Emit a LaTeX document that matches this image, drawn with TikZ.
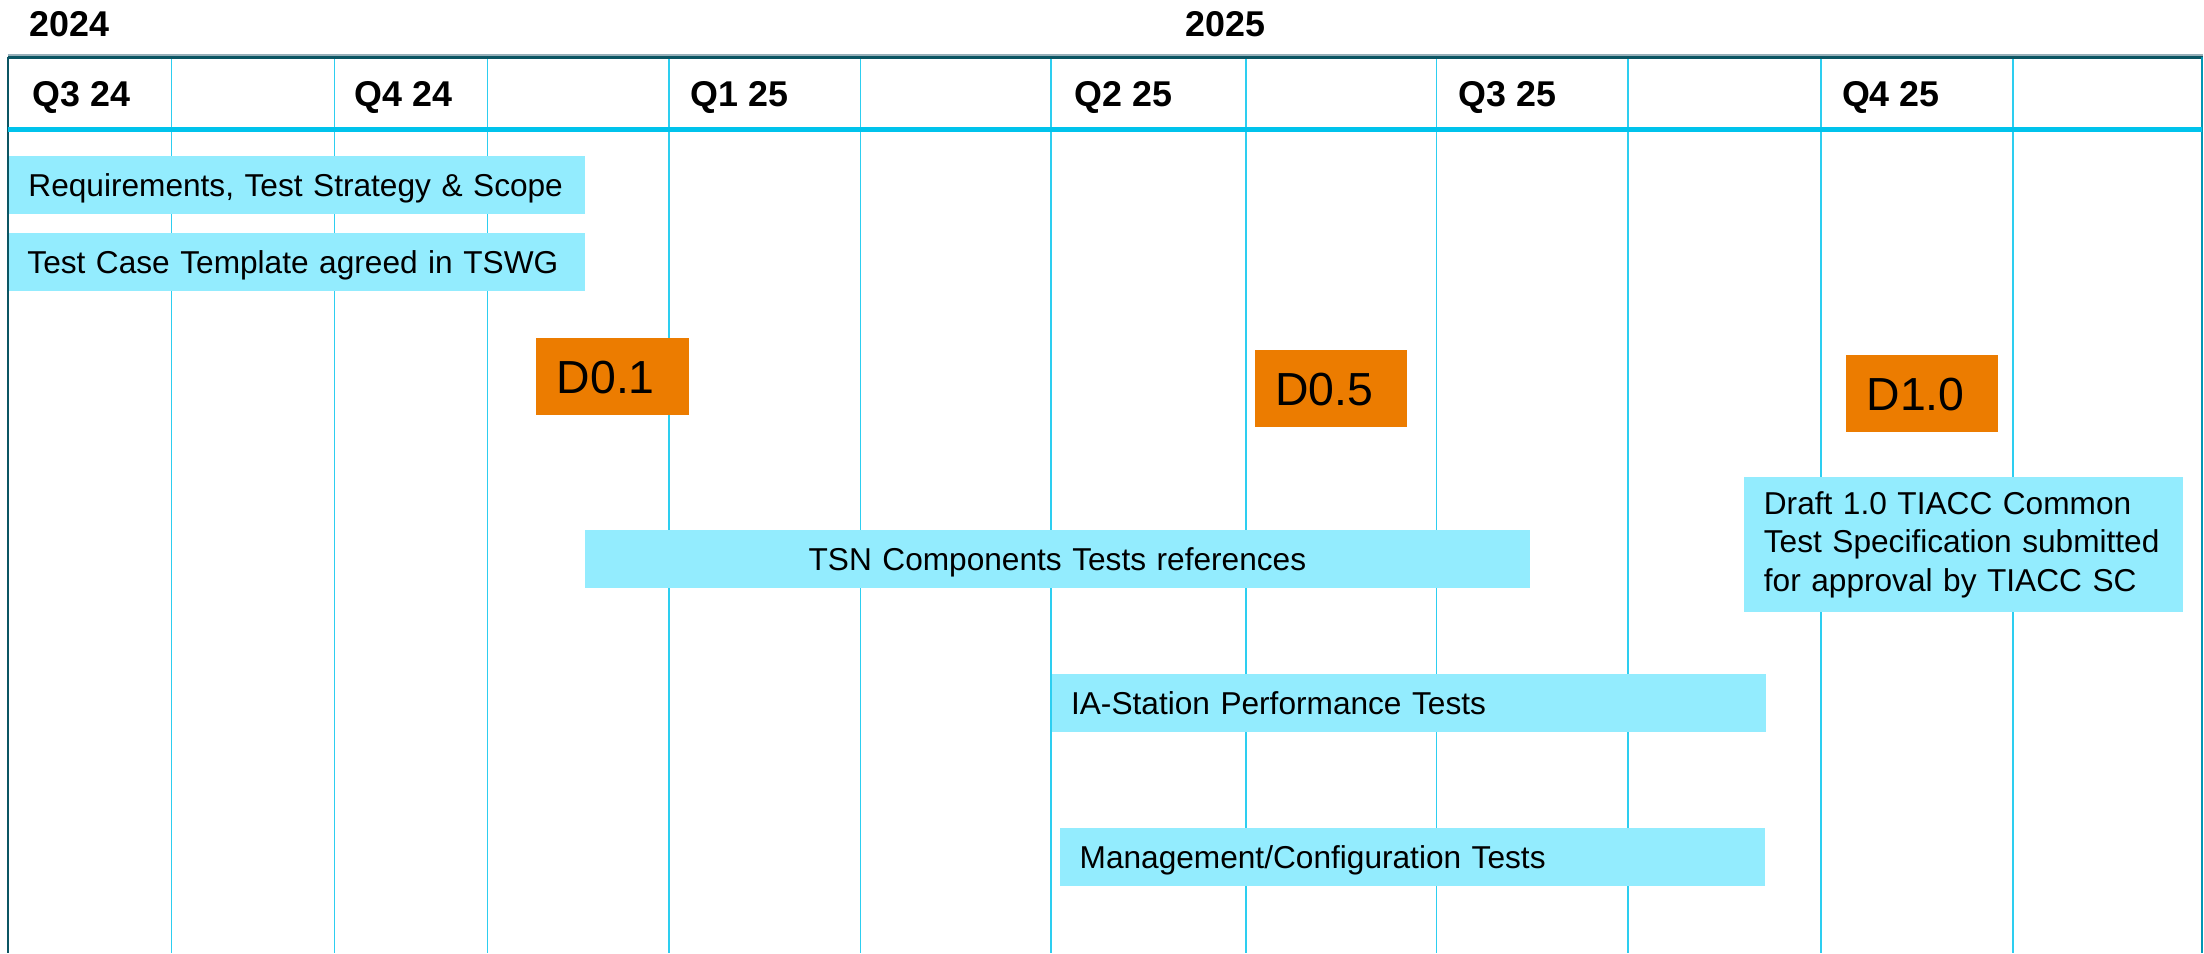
\documentclass[tikz,border=0pt]{standalone}
\usepackage{fontspec}
\setmainfont{Liberation Sans}
\definecolor{barc}{RGB}{147,236,254}
\definecolor{msc}{RGB}{236,124,0}
\definecolor{gridc}{RGB}{45,206,240}
\definecolor{headc}{RGB}{0,195,236}
\definecolor{framec}{RGB}{11,85,99}
\definecolor{rightc}{RGB}{0,150,180}
\definecolor{greyc}{RGB}{150,175,185}
\tikzset{
  bar/.style={fill=barc, anchor=north west, inner ysep=0pt, align=left,
    font=\fontsize{9}{10.9}\selectfont, text height=6.45pt, text depth=0pt},
  msbox/.style={fill=msc, anchor=north west, inner ysep=0pt, inner xsep=2.08mm, align=left,
    font=\fontsize{13.2}{15}\selectfont, text height=9.45pt, text depth=0pt,
    minimum height=7.77mm, text width=11.1mm},
  qlab/.style={anchor=base west, inner sep=0pt, font=\fontsize{10.2}{12}\selectfont\bfseries},
  gridl/.style={draw=gridc, line width=0.16mm},
}
\begin{document}
\begin{tikzpicture}[x=0.14056mm, y=-0.14056mm]
\useasboundingbox (0,0) rectangle (1568,678);
% grid lines
\foreach \gx in {122.0,238.0,346.8,475.9,612.2,747.7,886.4,1022.1,1158.0,1295.3,1431.9}
  \draw[gridl] (\gx,40.3) -- (\gx,678);
% frame
\draw[greyc, line width=0.12mm] (5.5,39.2) -- (1567,39.2);
\draw[framec, line width=0.3mm] (5.5,40.6) -- (1567,40.6);
\draw[framec, line width=0.26mm] (5.8,40.3) -- (5.8,678);
\draw[rightc, line width=0.28mm] (1566.6,40.3) -- (1566.6,678);
\draw[headc, line width=0.47mm] (5.5,92.2) -- (1566.6,92.2);
% years
\node[qlab] (y24) at (20.6,26.1) {2024};
\node[qlab] (y25) at (843,26.1) {2025};
% quarters
\node[qlab] (q324) at (22.5,75.8) {Q3 24};
\node[qlab] (q424) at (252,75.8) {Q4 24};
\node[qlab] (q125) at (491,75.8) {Q1 25};
\node[qlab] (q225) at (764,75.8) {Q2 25};
\node[qlab] (q325) at (1037,75.8) {Q3 25};
\node[qlab] (q425) at (1310,75.8) {Q4 25};
% bars
\node[bar, minimum width=57.59mm, minimum height=5.83mm, inner xsep=1.97mm, text width=53.65mm]
  (req) at (5.7,110.3) {Requirements, Test Strategy \& Scope};
\node[bar, minimum width=57.59mm, minimum height=5.83mm, inner xsep=1.87mm, text width=53.85mm]
  (tct) at (5.7,165.3) {Test Case Template agreed in TSWG};
\node[bar, minimum width=94.53mm, minimum height=5.85mm, inner xsep=0pt, text width=94.53mm, align=center]
  (tsn) at (415.5,376.4) {TSN Components Tests references};
\node[bar, minimum width=71.42mm, minimum height=5.86mm, inner xsep=1.94mm, text width=67.54mm]
  (ias) at (747.7,478.8) {IA-Station Performance Tests};
\node[bar, minimum width=70.45mm, minimum height=5.86mm, inner xsep=1.97mm, text width=66.51mm]
  (mgmt) at (753.6,588.4) {Management/Configuration Tests};
\node[fill=barc, anchor=north west, inner ysep=0pt, inner xsep=2.02mm, align=left,
  font=\fontsize{9}{10.9}\selectfont, minimum width=43.93mm, minimum height=13.58mm, text width=39.89mm]
  (draft) at (1240,338.6) {Draft 1.0 TIACC Common\\Test Specification submitted\\for approval by TIACC SC};
% milestones
\node[msbox] (d01) at (380.8,239.8) {D0.1};
\node[msbox] (d05) at (892,248.3) {D0.5};
\node[msbox] (d10) at (1312.6,251.8) {D1.0};
\end{tikzpicture}
\end{document}
